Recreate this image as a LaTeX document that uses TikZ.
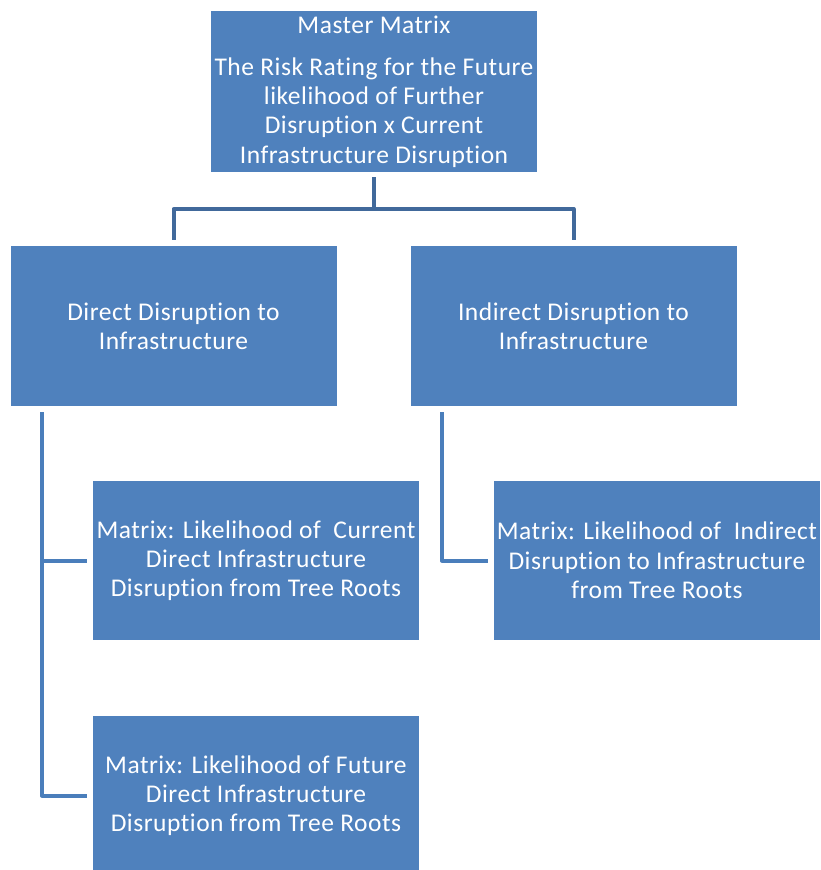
\documentclass[tikz,border=0pt]{standalone}
\usepackage{fontspec}
\setmainfont{Carlito}[RawFeature=-liga,LetterSpace=2]
\usetikzlibrary{calc}
\definecolor{boxblue}{HTML}{4F81BD}
\definecolor{topline}{HTML}{41699B}
\definecolor{lowline}{HTML}{4A7EBB}
\begin{document}
\begin{tikzpicture}[x=1pt,y=-1pt,
  blk/.style={fill=boxblue, draw=none, text=white, inner sep=0pt, align=center,
    minimum width=326pt, minimum height=160pt,
    font=\fontsize{25.5}{29.3}\selectfont},
  topconn/.style={draw=topline, line width=4pt, line join=round},
  lowconn/.style={draw=lowline, line width=4pt, line join=round}]
\useasboundingbox (0,0) rectangle (821,870);
\begin{scope}
\clip (0,0) rectangle (821,870);
\node[blk, minimum height=161pt] (master) at (374,91.5) {Master Matrix\\[12.7pt]The Risk Rating for the Future\\likelihood of Further\\Disruption x Current\\Infrastructure Disruption};
\node[blk] (direct) at (173.5,326) {Direct Disruption to\\Infrastructure};
\node[blk] (indirect) at (573.5,326) {Indirect Disruption to\\Infrastructure};
\node[blk, minimum height=159pt] (cur) at (256,560.5) {Matrix: Likelihood of \ Current\\Direct Infrastructure\\Disruption from Tree Roots};
\node[blk, minimum height=159pt] (ind) at (657,560.5) {Matrix: Likelihood of \ Indirect\\Disruption to Infrastructure\\from Tree Roots};
\node[blk, minimum height=159pt] (fut) at (256,795.5) {Matrix: Likelihood of Future\\Direct Infrastructure\\Disruption from Tree Roots};
\end{scope}
% top connector
\coordinate (bar) at (0,209);
\draw[topconn] ($(master.south)+(0,5)$) -- (master.south |- bar);
\draw[topconn] ($(direct.north)+(0,-6)$) |- (bar -| indirect.north) -- ($(indirect.north)+(0,-6)$);
% lower connectors
\coordinate (lx) at (42,0);
\coordinate (rx) at (442,0);
\draw[lowconn] (lx |- {$(direct.south)+(0,6)$}) |- ($(fut.west)+(-6,0)$);
\draw[lowconn] (lx |- cur.west) -- ($(cur.west)+(-6,0)$);
\draw[lowconn] (rx |- {$(indirect.south)+(0,6)$}) |- ($(ind.west)+(-6,0)$);
\end{tikzpicture}
\end{document}
